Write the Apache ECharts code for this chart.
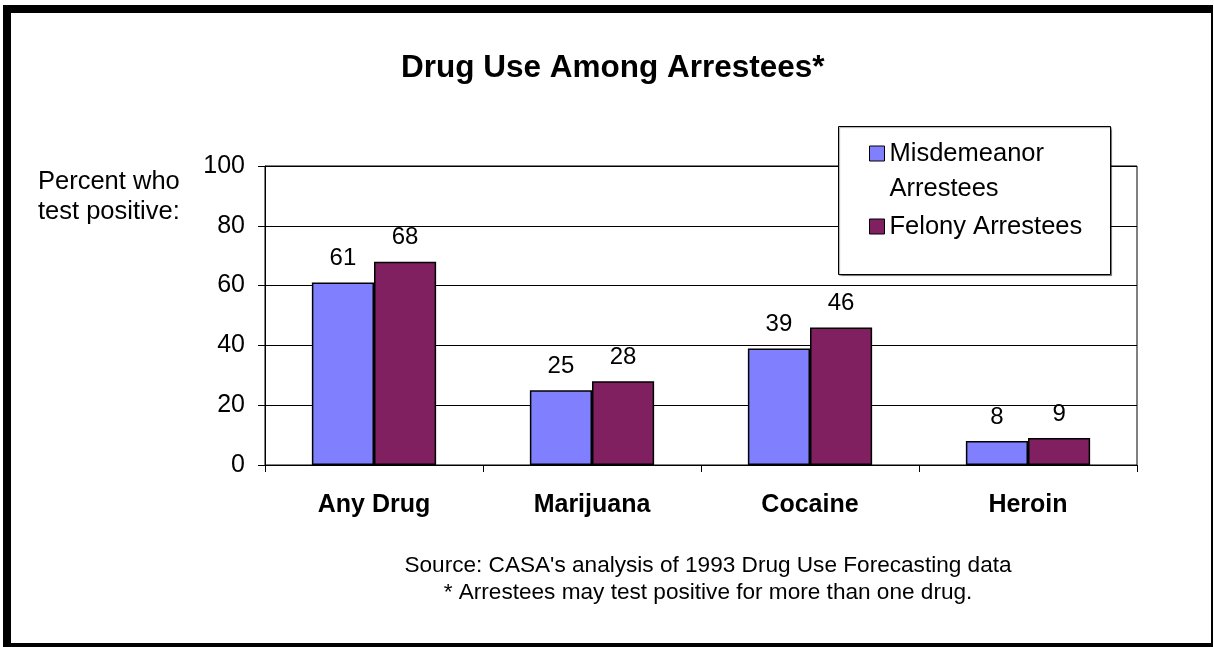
<!DOCTYPE html>
<html>
<head>
<meta charset="utf-8">
<script src="https://cdn.jsdelivr.net/npm/echarts@6/dist/echarts.min.js"></script>
<style>
html,body{margin:0;padding:0;background:#fff;}
#chart{width:1214px;height:647px;}
</style>
</head>
<body>
<div id="chart"></div>
<script>
const categories = ['Any Drug', 'Marijuana', 'Cocaine', 'Heroin'];
const misdemeanor = [61, 25, 39, 8];
const felony = [68, 28, 46, 9];
const seriesNames = ['Misdemeanor Arrestees', 'Felony Arrestees'];
const yTicks = { min: 0, max: 100, interval: 20 };
const titleText = 'Drug Use Among Arrestees*';
const yAxisNote = 'Percent who\ntest positive:';
const sourceLines = ["Source: CASA's analysis of 1993 Drug Use Forecasting data", '* Arrestees may test positive for more than one drug.'];

const FONT = '"Liberation Sans", Arial, sans-serif';
const chart = echarts.init(document.getElementById('chart'), null, { renderer: 'canvas' });

const labelStyle = { show: true, position: 'top', distance: 12, color: '#000', fontSize: 24, fontFamily: FONT };

chart.setOption({
  animation: false,
  backgroundColor: '#fff',
  title: {
    text: titleText,
    left: 401,
    top: 52,
    padding: 0,
    textStyle: { fontFamily: FONT, fontWeight: 'bold', fontSize: 31.5, color: '#000' }
  },
  grid: {
    left: 265, right: 77, top: 166, bottom: 182,
    show: true, borderColor: '#000', borderWidth: 1, backgroundColor: 'transparent'
  },
  legend: {
    orient: 'vertical',
    left: 864,
    top: 96,
    itemGap: 3,
    itemWidth: 15,
    itemHeight: 15,
    icon: 'rect',
    z: 10,
    itemStyle: { borderColor: '#000', borderWidth: 1 },
    textStyle: { fontFamily: FONT, fontSize: 25.5, color: '#000', lineHeight: 35 },
    formatter: function (name) {
      return name === 'Misdemeanor Arrestees' ? '\nMisdemeanor\nArrestees' : name;
    },
    data: seriesNames
  },
  xAxis: {
    type: 'category',
    data: categories,
    axisLine: { show: true, lineStyle: { color: '#000', width: 1 } },
    axisTick: { show: true, alignWithLabel: false, length: 7, lineStyle: { color: '#000' } },
    axisLabel: { margin: 28, color: '#000', fontFamily: FONT, fontWeight: 'bold', fontSize: 25 },
    splitLine: { show: false }
  },
  yAxis: {
    type: 'value',
    min: yTicks.min, max: yTicks.max, interval: yTicks.interval,
    axisLine: { show: true, lineStyle: { color: '#000', width: 1 } },
    axisTick: { show: true, length: 7, lineStyle: { color: '#000' } },
    axisLabel: { margin: 20, color: '#000', fontFamily: FONT, fontSize: 25 },
    splitLine: { show: true, lineStyle: { color: '#000', width: 1 } }
  },
  series: [
    {
      name: seriesNames[0], type: 'bar', data: misdemeanor,
      barGap: '0%', barCategoryGap: '43%',
      itemStyle: { color: '#8080ff', borderColor: '#000', borderWidth: 1.5 },
      label: labelStyle
    },
    {
      name: seriesNames[1], type: 'bar', data: felony,
      barGap: '0%', barCategoryGap: '43%',
      itemStyle: { color: '#802060', borderColor: '#000', borderWidth: 1.5 },
      label: labelStyle
    }
  ],
  graphic: [
    { type: 'rect', z: 5, shape: { x: 838.5, y: 126.5, width: 272, height: 148 },
      style: { fill: '#fff', stroke: '#000', lineWidth: 1, shadowColor: 'rgba(0,0,0,0.35)', shadowOffsetX: 1, shadowOffsetY: 1, shadowBlur: 1 } },
    { type: 'text', z: 5, left: 38, top: 167,
      style: { text: yAxisNote, font: '25.5px ' + FONT, fill: '#000', lineHeight: 30 } },
    { type: 'text', z: 5, x: 708, y: 566,
      style: { text: sourceLines[0], font: '22.6px ' + FONT, fill: '#000', align: 'center', verticalAlign: 'middle' } },
    { type: 'text', z: 5, x: 708, y: 593,
      style: { text: sourceLines[1], font: '22.6px ' + FONT, fill: '#000', align: 'center', verticalAlign: 'middle' } },
    { type: 'rect', z: 20, shape: { x: 3, y: 5, width: 1210, height: 8 }, style: { fill: '#000' } },
    { type: 'rect', z: 20, shape: { x: 3, y: 5, width: 8, height: 642 }, style: { fill: '#000' } },
    { type: 'rect', z: 20, shape: { x: 1211, y: 5, width: 2, height: 642 }, style: { fill: '#000' } },
    { type: 'rect', z: 20, shape: { x: 3, y: 643, width: 1210, height: 4 }, style: { fill: '#000' } }
  ]
});
</script>
</body>
</html>
